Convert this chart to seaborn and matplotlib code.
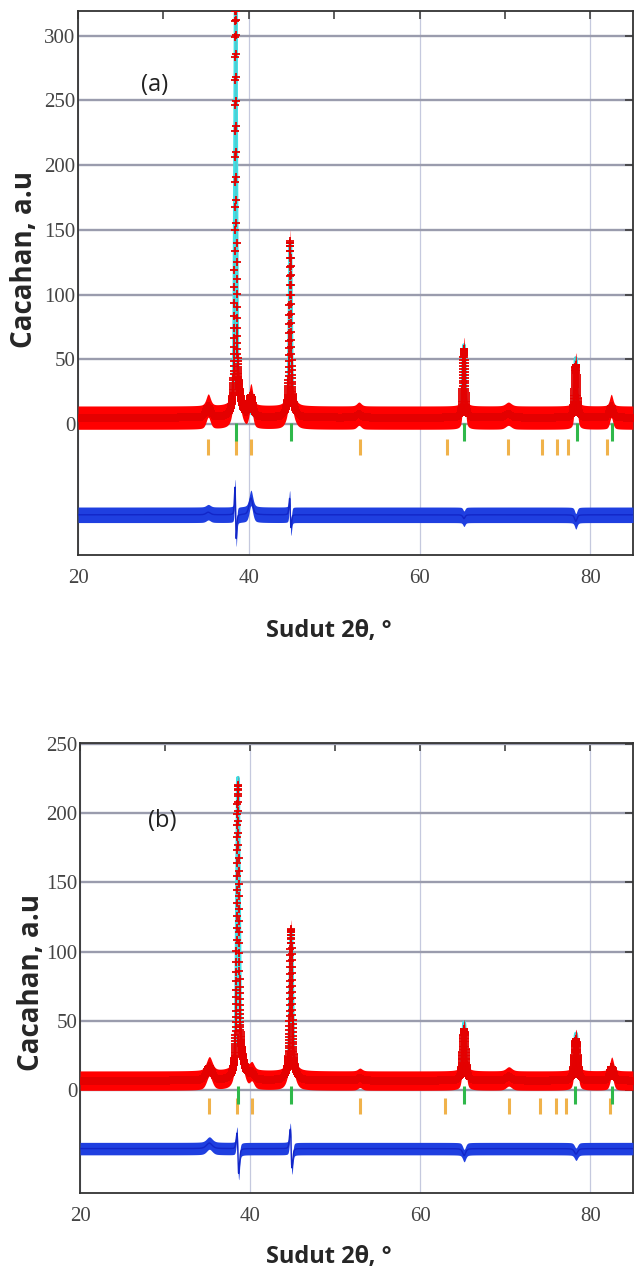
import numpy as np
import pandas as pd
import seaborn as sns
import matplotlib.pyplot as plt
from matplotlib.ticker import MultipleLocator

sns.set_theme(style="white")
plt.rcParams['font.family'] = ['Open Sans', 'DejaVu Sans']

# scan range of both patterns
TTH_START, TTH_END, TTH_STEP = 20.0, 85.0, 0.01

# ---- panel (a): peaks (position, height, fwhm)
A_BG = 5
A_OBS_POS = [35.25, 38.45, 38.7, 40.25, 44.85, 44.9, 52.9, 65.2, 70.4, 78.3, 82.45]
A_OBS_H = [9, 302, 18, 16, 126, 10, 3, 53, 3, 41, 9]
A_OBS_W = [0.6, 0.2, 0.9, 0.5, 0.22, 1.0, 0.6, 0.3, 0.8, 0.34, 0.45]
A_CALC_POS = [35.25, 38.46, 38.7, 40.25, 44.865, 44.9, 52.9, 65.2, 70.4, 78.3, 82.45]
A_CALC_H = [7, 300, 18, 3, 124, 10, 3, 56, 3, 46, 9]
A_ORANGE = [35.25, 38.5, 40.3, 53.0, 63.2, 70.4, 74.4, 76.1, 77.4, 82.0]
A_GREEN = [38.55, 44.9, 65.25, 78.4, 82.5]

# ---- panel (b)
B_BG = 7
B_OBS_POS = [35.2, 38.55, 38.85, 40.2, 44.8, 44.85, 52.9, 65.15, 70.4, 78.3, 82.5]
B_OBS_H = [10, 201, 16, 5, 99, 10, 2, 37, 3, 30, 10]
B_OBS_W = [0.8, 0.28, 1.0, 0.6, 0.28, 1.0, 0.6, 0.42, 0.8, 0.45, 0.5]
B_CALC_POS = [35.2, 38.565, 38.85, 40.2, 44.83, 44.85, 52.9, 65.15, 70.4, 78.3, 82.5]
B_CALC_H = [6, 206, 16, 5, 99, 10, 2, 42, 3, 34, 10]
B_ORANGE = [35.2, 38.5, 40.2, 52.9, 62.9, 70.4, 74.1, 76.0, 77.1, 82.3]
B_GREEN = [38.55, 44.8, 65.1, 78.2, 82.5]

X_LABEL = 'Sudut 2θ, °'
Y_LABEL = 'Cacahan, a.u'


def pseudo_voigt(x, pos, h, w, eta=0.5):
    g = np.exp(-4 * np.log(2) * ((x - pos) / w) ** 2)
    l = 1 / (1 + 4 * ((x - pos) / w) ** 2)
    return h * (eta * l + (1 - eta) * g)


def profile(x, bg, pos, hts, wid):
    y = np.full_like(x, bg, dtype=float)
    for p, h, w in zip(pos, hts, wid):
        y += pseudo_voigt(x, p, h, w)
    return y


tth = np.arange(TTH_START, TTH_END + TTH_STEP / 2, TTH_STEP)

tick_font = ['Liberation Serif', 'DejaVu Serif']


def draw_panel(ax, bg, obs_pos, obs_h, wid, calc_pos, calc_h, orange, green,
               ylim, yticks, diff_off, band, dband, orange_y, green_y, tag, tag_xy,
               ylab_xy, xlab_xy):
    df = pd.DataFrame({'tth': tth})
    df['obs'] = profile(tth, bg, obs_pos, obs_h, wid)
    df['calc'] = profile(tth, bg, calc_pos, calc_h, wid)
    df['diff'] = df['obs'] - df['calc'] + diff_off

    # calculated profile sits under the observed points
    sns.lineplot(data=df, x='tth', y='calc', ax=ax, color='#3fe0e6', lw=2.6,
                 estimator=None, sort=False, zorder=2)
    ax.fill_between(df['tth'], df['obs'] - band, df['obs'] + band,
                    color='#ff0000', lw=0, zorder=3)
    sns.scatterplot(data=df, x='tth', y='obs', ax=ax, marker='+', s=40,
                    color='#e40000', linewidth=1.3, zorder=4)

    # difference curve
    ax.fill_between(df['tth'], df['diff'] - dband, df['diff'] + dband,
                    color='#1f3fe0', lw=0, zorder=3)
    sns.lineplot(data=df, x='tth', y='diff', ax=ax, color='#1226c8', lw=1.0,
                 estimator=None, sort=False, zorder=3)

    # Bragg positions of the two phases
    sns.scatterplot(x=orange, y=[orange_y] * len(orange), ax=ax, marker='|',
                    s=130, color='#f0b24a', linewidth=2.2, zorder=3)
    sns.scatterplot(x=green, y=[green_y] * len(green), ax=ax, marker='|',
                    s=150, color='#2fb84a', linewidth=2.2, zorder=5)

    ax.set_xlim(TTH_START, TTH_END)
    ax.set_ylim(*ylim)
    ax.set_yticks(yticks)
    ax.set_xticks([20, 40, 60, 80])
    ax.xaxis.set_minor_locator(MultipleLocator(10))
    ax.set_axisbelow(True)
    ax.yaxis.grid(True, color='#9a9cad', lw=1.7)
    ax.xaxis.grid(True, color='#c5c9de', lw=0.9)
    ax.tick_params(which='both', direction='in', top=True, right=True,
                   length=6, width=1.1, color='#333333')
    ax.tick_params(axis='x', which='major', pad=10, labelsize=15,
                   labelcolor='#444444', labelfontfamily=tick_font)
    ax.tick_params(axis='y', pad=2, labelsize=15, labelcolor='#444444',
                   labelfontfamily=tick_font)
    for s in ax.spines.values():
        s.set_color('#333333')
        s.set_linewidth(1.3)

    ax.text(tag_xy[0], tag_xy[1], tag, fontsize=17, ha='center', va='center',
            color='#222222')
    ax.set_xlabel(X_LABEL, fontsize=17, fontweight='bold', va='center')
    ax.set_ylabel(Y_LABEL, fontsize=20, fontweight='bold', va='center')
    ax.xaxis.set_label_coords(*xlab_xy)
    ax.yaxis.set_label_coords(*ylab_xy)


fig = plt.figure(figsize=(6.37, 12.74), dpi=100)
ax_a = fig.add_axes([0.1225, 0.5644, 0.8712, 0.4270])
ax_b = fig.add_axes([0.1256, 0.0636, 0.8681, 0.3532])

draw_panel(ax_a, A_BG, A_OBS_POS, A_OBS_H, A_OBS_W, A_CALC_POS, A_CALC_H,
           A_ORANGE, A_GREEN, ylim=(-101, 319), yticks=range(0, 301, 50),
           diff_off=-70, band=9, dband=6, orange_y=-18, green_y=-6,
           tag='(a)', tag_xy=(29.0, 262), ylab_xy=(-0.097, 0.544),
           xlab_xy=(0.452, -0.140))
draw_panel(ax_b, B_BG, B_OBS_POS, B_OBS_H, B_OBS_W, B_CALC_POS, B_CALC_H,
           B_ORANGE, B_GREEN, ylim=(-74, 250.5), yticks=range(0, 251, 50),
           diff_off=-42, band=7, dband=4.5, orange_y=-11, green_y=-3,
           tag='(b)', tag_xy=(29.7, 194), ylab_xy=(-0.088, 0.467),
           xlab_xy=(0.450, -0.142))

fig.savefig('out.png', dpi=100)
